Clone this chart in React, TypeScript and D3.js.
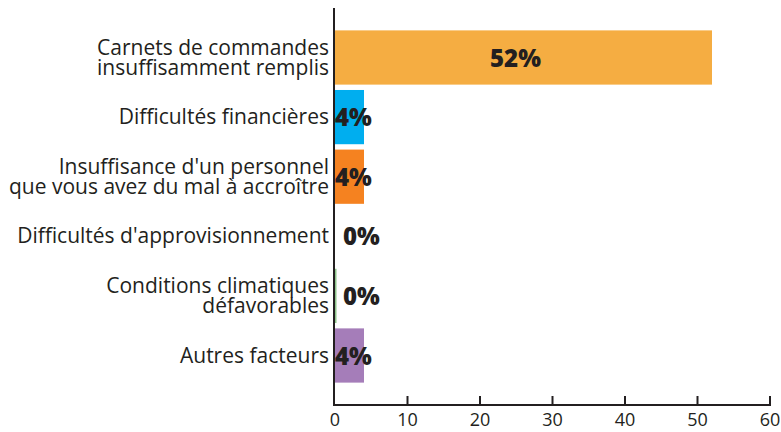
import React, { useRef, useEffect } from 'react'
import * as d3 from 'd3'

const categories = [
  ['Carnets de commandes', 'insuffisamment remplis'],
  ['Difficultés financières'],
  ["Insuffisance d'un personnel", 'que vous avez du mal à accroître'],
  ["Difficultés d'approvisionnement"],
  ['Conditions climatiques', 'défavorables'],
  ['Autres facteurs'],
]
const values = [52, 4, 4, 0, 0, 4]
const colors = ['#F5AD42', '#00AEEF', '#F58220', '#FFFFFF', '#8DC38A', '#A57DB9']
const xTicks = [0, 10, 20, 30, 40, 50, 60]

const W = 781
const H = 432
const margin = { top: 8, left: 335, right: 11, axisY: 405 }
const ink = '#231F20'
const font = '"Open Sans", sans-serif'

const App = () => {
  const svgRef = useRef<SVGSVGElement>(null)

  useEffect(() => {
    const svg = d3.select(svgRef.current)
    svg.selectAll('*').remove()

    const x = d3.scaleLinear().domain([0, 60]).range([margin.left, W - margin.right])
    const y = d3
      .scaleBand<number>()
      .domain(d3.range(values.length))
      .range([27.7, 385.3])
      .paddingInner(0.09)
      .paddingOuter(0.045)

    // vertical axis line
    svg
      .append('line')
      .attr('x1', x(0) - 1)
      .attr('x2', x(0) - 1)
      .attr('y1', margin.top)
      .attr('y2', margin.axisY)
      .attr('stroke', ink)
      .attr('stroke-width', 2)

    // bars
    svg
      .selectAll('.bar')
      .data(values)
      .join('rect')
      .attr('class', 'bar')
      .attr('x', x(0))
      .attr('y', (_, i) => y(i)!)
      .attr('height', y.bandwidth())
      .attr('width', (d, i) => (d === 0 && i === 4 ? 1.5 : x(d) - x(0)))
      .attr('fill', (_, i) => colors[i])

    // bottom axis
    svg
      .append('line')
      .attr('x1', x(0) - 2)
      .attr('x2', x(60) + 1)
      .attr('y1', margin.axisY)
      .attr('y2', margin.axisY)
      .attr('stroke', ink)
      .attr('stroke-width', 2)

    svg
      .selectAll('.tick')
      .data(xTicks)
      .join('line')
      .attr('class', 'tick')
      .attr('x1', (d) => x(d) - (d === 0 ? 1 : 0))
      .attr('x2', (d) => x(d) - (d === 0 ? 1 : 0))
      .attr('y1', margin.axisY - 9)
      .attr('y2', margin.axisY)
      .attr('stroke', ink)
      .attr('stroke-width', 2)

    svg
      .selectAll('.tick-label')
      .data(xTicks)
      .join('text')
      .attr('class', 'tick-label')
      .attr('x', (d) => x(d))
      .attr('y', 426)
      .attr('text-anchor', 'middle')
      .attr('font-family', font)
      .attr('font-size', 18)
      .attr('fill', ink)
      .text((d) => d)

    // category labels
    const labels = svg
      .selectAll('.cat')
      .data(categories)
      .join('text')
      .attr('class', 'cat')
      .attr('text-anchor', 'end')
      .attr('font-family', font)
      .attr('font-size', 21)
      .attr('fill', ink)
      .attr('transform', (_, i) => `translate(${x(0) - 6},${y(i)! + y.bandwidth() / 2})`)

    labels
      .selectAll('tspan')
      .data((d) => d.map((t, k) => ({ t, k, n: d.length })))
      .join('tspan')
      .attr('x', 0)
      .attr('y', (d) => (d.k - (d.n - 1) / 2) * 20 + 7)
      .text((d) => d.t)

    // value labels
    svg
      .selectAll('.val')
      .data(values)
      .join('text')
      .attr('class', 'val')
      .attr('font-family', font)
      .attr('font-weight', 800)
      .attr('font-size', 24)
      .attr('fill', ink)
      .attr('text-anchor', (d) => (d >= 10 ? 'middle' : 'start'))
      .attr('x', (d) => (d >= 10 ? (x(0) + x(d)) / 2 - 8 : x(0) + (d === 0 ? 8 : 0)))
      .attr('y', (_, i) => y(i)! + y.bandwidth() / 2 + 9)
      .text((d) => `${d}%`)
  }, [])

  return (
    <svg
      ref={svgRef}
      width={W}
      height={H}
      style={{ position: 'absolute', left: 0, top: 0, background: '#fff' }}
    />
  )
}

export default App
